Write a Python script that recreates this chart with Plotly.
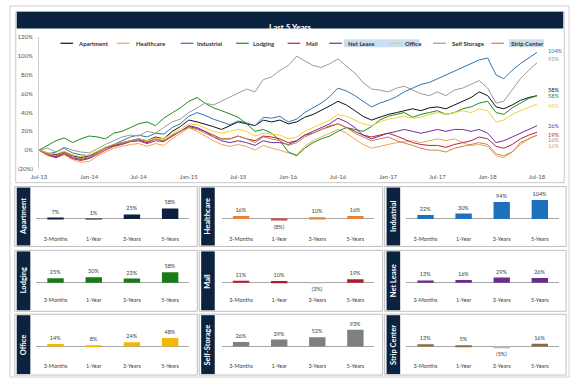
import plotly.graph_objects as go
import pandas as pd

W, H = 580, 382
def px(x): return x / W
def py(y): return 1 - y / H

NAVY = "#0c2340"
FONT = "Lato"

# ---------------- main chart data (monthly, Jul-13 .. Jul-18) ----------------
dates = pd.date_range("2013-07-01", "2018-07-01", freq="MS")

apartment = [0, -3, -5, -2, -6, -8, -6, -2, 2, 5, 8, 10, 12, 10, 14, 12, 20, 25,
             32, 30, 28, 25, 22, 26, 30, 28, 26, 32, 30, 32, 28, 30, 35, 38, 42, 47,
             52, 48, 42, 36, 32, 35, 38, 40, 42, 44, 42, 45, 46, 44, 48, 52, 56, 62,
             58, 46, 44, 48, 53, 56, 58]
healthcare = [0, -6, -8, -5, -10, -13, -12, -6, -2, 2, 4, 6, 7, 4, 7, 5, 12, 18,
              24, 20, 15, 10, 6, 4, 6, 4, 0, 5, 2, 0, -3, -5, 4, 10, 14, 18,
              22, 18, 12, 6, 2, 4, 6, 8, 9, 10, 8, 10, 12, 10, 12, 8, 5, 6,
              4, -6, -8, -2, 6, 12, 16]
industrial = [0, -4, -2, 2, -3, -5, -6, -2, 3, 6, 10, 14, 16, 14, 18, 17, 24, 28,
              36, 40, 37, 33, 30, 27, 31, 29, 26, 35, 34, 36, 30, 33, 40, 45, 50, 57,
              66, 63, 58, 52, 46, 50, 53, 57, 62, 66, 70, 72, 76, 80, 84, 88, 92, 96,
              98, 80, 76, 85, 92, 98, 104]
lodging = [0, 5, 10, 13, 8, 12, 15, 14, 12, 18, 20, 24, 28, 30, 26, 34, 40, 45,
           52, 56, 50, 45, 42, 38, 35, 28, 20, 22, 18, 10, -2, -6, 2, 8, 12, 15,
           20, 24, 22, 20, 25, 32, 36, 38, 40, 35, 38, 40, 42, 38, 40, 44, 46, 50,
           52, 40, 38, 45, 50, 55, 58]
mall = [0, -5, -8, -4, -9, -11, -9, -4, 0, 4, 6, 9, 10, 7, 10, 9, 15, 20,
        25, 23, 20, 16, 12, 12, 15, 12, 10, 15, 14, 12, 8, 10, 16, 18, 22, 25,
        28, 24, 20, 16, 14, 16, 18, 15, 12, 8, 6, 5, 5, 3, 6, 8, 10, 14,
        12, 4, 2, 6, 12, 16, 19]
net_lease = [0, -4, -7, -3, -8, -10, -8, -3, 2, 5, 7, 10, 11, 8, 12, 10, 16, 20,
             26, 24, 20, 14, 10, 8, 10, 8, 5, 10, 8, 8, 6, 10, 16, 20, 24, 28,
             34, 30, 24, 16, 12, 15, 18, 20, 22, 20, 18, 20, 22, 20, 22, 22, 20, 22,
             18, 8, 10, 14, 18, 22, 26]
office = [0, -3, -4, -1, -5, -7, -5, -1, 3, 6, 8, 10, 12, 10, 13, 12, 18, 22,
          28, 27, 24, 20, 18, 20, 22, 20, 15, 18, 17, 16, 12, 14, 20, 24, 28, 32,
          38, 36, 32, 28, 26, 30, 33, 35, 36, 34, 35, 38, 40, 38, 40, 42, 40, 44,
          42, 30, 32, 38, 42, 46, 49]
self_storage = [0, 2, -2, 3, 0, -2, -3, 2, 6, 10, 14, 16, 15, 20, 18, 24, 30, 33,
                40, 45, 50, 48, 52, 56, 60, 65, 62, 75, 78, 85, 90, 100, 95, 90, 88, 92,
                97, 90, 82, 72, 65, 64, 62, 66, 68, 64, 60, 58, 62, 58, 64, 66, 70, 74,
                66, 50, 52, 64, 76, 85, 93]
strip_center = [0, -4, -6, -2, -7, -9, -7, -2, 2, 6, 8, 10, 12, 9, 12, 10, 16, 20,
                24, 22, 18, 14, 12, 12, 15, 12, 8, 14, 12, 10, 5, 8, 14, 18, 22, 26,
                28, 24, 18, 14, 10, 12, 14, 10, 8, 5, 2, 0, 0, -2, 2, 4, 6, 8,
                6, -4, -6, -2, 8, 12, 16]

series_names = ["Apartment", "Healthcare", "Industrial", "Lodging", "Mall",
                "Net Lease", "Office", "Self Storage", "Strip Center"]
series_values = [apartment, healthcare, industrial, lodging, mall,
                 net_lease, office, self_storage, strip_center]
line_colors = ["#111111", "#f2a15e", "#2e75b6", "#1e8c1e", "#c0203a",
               "#7030a0", "#f5d033", "#9a9a9a", "#c08a45"]
end_labels = ["58%", "16%", "104%", "58%", "19%", "26%", "49%", "93%", "16%"]
end_label_y = [64, 4, 106, 58, 16.5, 26, 47, 97, 10.5]

y_tick_vals = [-20, 0, 20, 40, 60, 80, 100, 120]
y_tick_text = ["(20%)", "0%", "20%", "40%", "60%", "80%", "100%", "120%"]
x_tick_vals = pd.date_range("2013-07-01", "2018-07-01", freq="6MS")
x_tick_text = ["Jul-13", "Jan-14", "Jul-14", "Jan-15", "Jul-15", "Jan-16",
               "Jul-16", "Jan-17", "Jul-17", "Jan-18", "Jul-18"]

# ---------------- small panels data ----------------
periods = ["3-Months", "1-Year", "3-Years", "5-Years"]
panel_names = ["Apartment", "Healthcare", "Industrial", "Lodging", "Mall",
               "Net Lease", "Office", "Self-Storage", "Strip Center"]
ret_apartment = [7, 1, 25, 58]
ret_healthcare = [16, -8, 10, 16]
ret_industrial = [22, 30, 94, 104]
ret_lodging = [25, 30, 23, 58]
ret_mall = [11, 10, -3, 19]
ret_net_lease = [13, 16, 29, 26]
ret_office = [14, 8, 24, 48]
ret_self_storage = [26, 39, 52, 93]
ret_strip_center = [13, 5, -5, 16]
panel_values = [ret_apartment, ret_healthcare, ret_industrial, ret_lodging, ret_mall,
                ret_net_lease, ret_office, ret_self_storage, ret_strip_center]
bar_colors = ["#0c1f3f", "#e8823a", "#1f6fbf", "#1a7a1a", "#b01c2e",
              "#6a2c91", "#f2b900", "#7f7f7f", "#8b6a3e"]
neg_colors = ["#0c1f3f", "#d9413a", "#1f6fbf", "#1a7a1a", "#b8b8b8",
              "#6a2c91", "#f2b900", "#7f7f7f", "#b8b8b8"]

fig = go.Figure()

# main lines
for name, vals, col in zip(series_names, series_values, line_colors):
    fig.add_trace(go.Scatter(x=dates, y=vals, mode="lines", name=name,
                             line=dict(color=col, width=1), showlegend=False,
                             xaxis="x", yaxis="y"))

shapes = []
annotations = []

# outer border, title bar, main border
shapes.append(dict(type="rect", xref="paper", yref="paper", x0=px(2), x1=px(578),
                   y0=py(380), y1=py(2), line=dict(color="#d0d0d0", width=1)))
shapes.append(dict(type="rect", xref="paper", yref="paper", x0=px(8), x1=px(573),
                   y0=py(182), y1=py(8), line=dict(color="#c8c8c8", width=1)))
shapes.append(dict(type="rect", xref="paper", yref="paper", x0=px(9), x1=px(572),
                   y0=py(25), y1=py(8), line=dict(width=0), fillcolor=NAVY))
annotations.append(dict(text="<b>Last 5 Years</b>", xref="paper", yref="paper",
                        x=px(290), y=py(16.5), showarrow=False,
                        font=dict(color="white", size=8, family=FONT)))

# legend highlights
for x0, x1 in [(346, 424), (516, 552)]:
    shapes.append(dict(type="rect", xref="paper", yref="paper", x0=px(x0), x1=px(x1),
                       y0=py(44), y1=py(36), line=dict(width=0),
                       fillcolor="#c9def2", layer="below"))

# manual legend
leg_line_x = [54, 112, 178, 235, 288, 331, 393, 438, 498]
leg_text_x = [70, 130, 193, 250, 305, 348, 407, 455, 516]
for name, col, lx, tx in zip(series_names, line_colors, leg_line_x, leg_text_x):
    shapes.append(dict(type="line", xref="paper", yref="paper", x0=px(lx), x1=px(lx + 13),
                       y0=py(40), y1=py(40), line=dict(color=col, width=1.2)))
    annotations.append(dict(text="<b>" + name + "</b>", xref="paper", yref="paper",
                            x=px(tx), y=py(40), xanchor="left", yanchor="middle",
                            showarrow=False, font=dict(size=6, color="#333333", family=FONT)))

# end labels
for lab, ly, col in zip(end_labels, end_label_y, line_colors):
    annotations.append(dict(text=lab, xref="paper", yref="y", x=px(554), y=ly,
                            xanchor="left", yanchor="middle", showarrow=False,
                            font=dict(size=5.5, color=col, family=FONT)))

layout = dict(
    width=W, height=H, margin=dict(l=0, r=0, t=0, b=0),
    paper_bgcolor="white", plot_bgcolor="rgba(0,0,0,0)", showlegend=False,
    font=dict(family=FONT),
    xaxis=dict(domain=[px(32), px(545)], type="date",
               range=["2013-07-01", "2018-07-01"], tickvals=list(x_tick_vals),
               ticktext=x_tick_text, showgrid=False, zeroline=False, showline=False,
               ticks="", ticklabelstandoff=3,
               tickfont=dict(size=6, color="#555555"), anchor="y"),
    yaxis=dict(domain=[py(168), py(34)], range=[-20, 120], tickvals=y_tick_vals,
               ticktext=y_tick_text, showgrid=False, zeroline=False, showline=True,
               linecolor="#d0d0d0", linewidth=1, ticks="", ticklabelstandoff=4,
               tickfont=dict(size=6, color="#555555"), anchor="x"),
)

# small panels
col_dom = [(29.3, 186.7), (220.5, 377.5), (410.5, 567.5)]
col_box = [(7, 195), (197, 386), (388, 575)]
col_band = [(9, 23), (199, 213), (390, 404)]
row_dom = [(188, 235, 219), (253, 297, 284), (318, 364, 349)]
row_box = [(186, 247), (251, 313), (316, 378)]
scale = 0.185  # px per percentage point

for i, (pname, vals) in enumerate(zip(panel_names, panel_values)):
    r, c = divmod(i, 3)
    n = i + 2
    top, bot, zero = row_dom[r]
    xd0, xd1 = col_dom[c]
    texts = [f"{v}%" if v >= 0 else f"({-v}%)" for v in vals]
    cols = [bar_colors[i] if v >= 0 else neg_colors[i] for v in vals]
    fig.add_trace(go.Bar(x=periods, y=vals, xaxis=f"x{n}", yaxis=f"y{n}",
                         marker=dict(color=cols, line=dict(width=0)), width=0.43,
                         text=texts, textposition="outside", cliponaxis=False,
                         constraintext="none",
                         textfont=dict(size=5.5, color="#404040", family=FONT),
                         showlegend=False))
    layout[f"xaxis{n}"] = dict(domain=[px(xd0), px(xd1)], anchor=f"y{n}",
                               showgrid=False, zeroline=False, showline=False, ticks="",
                               tickfont=dict(size=5.5, color="#404040"),
                               fixedrange=True)
    layout[f"yaxis{n}"] = dict(domain=[py(bot), py(top)], anchor=f"x{n}",
                               range=[-(bot - zero) / scale, (zero - top) / scale],
                               showgrid=False, showticklabels=False, ticks="",
                               zeroline=True, zerolinecolor="#a6a6a6", zerolinewidth=1,
                               showline=False, fixedrange=True)
    bx0, bx1 = col_box[c]
    by0, by1 = row_box[r]
    shapes.append(dict(type="rect", xref="paper", yref="paper", x0=px(bx0), x1=px(bx1),
                       y0=py(by1), y1=py(by0), line=dict(color="#bfbfbf", width=1)))
    nx0, nx1 = col_band[c]
    shapes.append(dict(type="rect", xref="paper", yref="paper", x0=px(nx0), x1=px(nx1),
                       y0=py(by1 - 1), y1=py(by0 + 1), line=dict(width=0), fillcolor=NAVY))
    annotations.append(dict(text="<b>" + pname + "</b>", xref="paper", yref="paper",
                            x=px((nx0 + nx1) / 2), y=py((by0 + by1) / 2), textangle=-90,
                            xanchor="center", yanchor="middle", showarrow=False,
                            font=dict(size=7.5, color="white", family=FONT)))

layout["shapes"] = shapes
layout["annotations"] = annotations
fig.update_layout(**layout)
fig.write_html("out.html", config={"displayModeBar": False},
               post_script="document.body.style.margin='0';document.body.style.overflow='hidden';")
